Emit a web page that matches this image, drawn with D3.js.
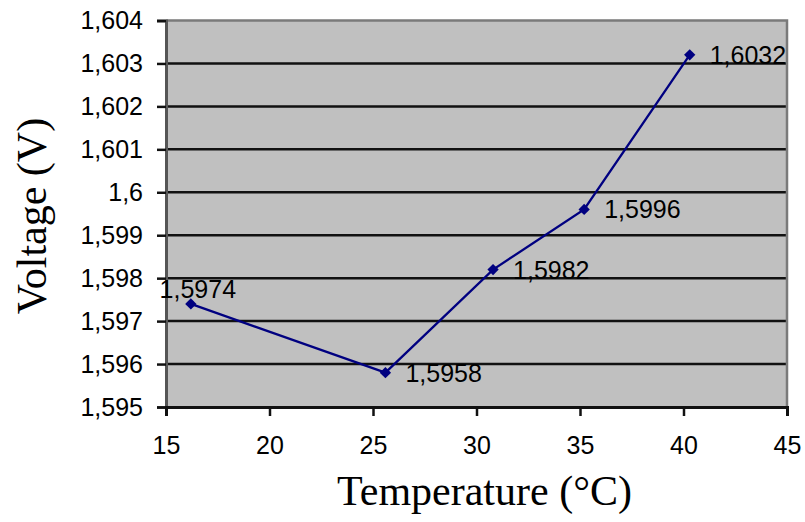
<!DOCTYPE html>
<html>
<head>
<meta charset="utf-8">
<script src="https://cdn.jsdelivr.net/npm/d3@7"></script>
<style>
  html, body { margin: 0; padding: 0; background: #fff; }
  svg { display: block; }
</style>
</head>
<body>
<svg id="chart" width="805" height="522"></svg>
<script>
// Measured voltage against temperature
const temperatures = [16.2, 25.6, 30.8, 35.2, 40.3];
const voltages = [1.5974, 1.5958, 1.5982, 1.5996, 1.6032];
const xTicks = [15, 20, 25, 30, 35, 40, 45];
const yTicks = [1.595, 1.596, 1.597, 1.598, 1.599, 1.6, 1.601, 1.602, 1.603, 1.604];

const xTitle = "Temperature (°C)";
const yTitle = "Voltage (V)";

// Comma as decimal separator
const locale = d3.formatLocale({ decimal: ",", thousands: ".", grouping: [3], currency: ["", ""] });
const tickFmt = locale.format(".3~f");
const labelFmt = locale.format(".4f");

const svg = d3.select("#chart");
const plot = { left: 166, right: 787, top: 20.5, bottom: 407 };

const x = d3.scaleLinear().domain([15, 45]).range([plot.left, plot.right]);
const y = d3.scaleLinear().domain([1.595, 1.604]).range([plot.bottom, plot.top]);

// Plot background
svg.append("rect")
  .attr("x", plot.left).attr("y", plot.top)
  .attr("width", plot.right - plot.left).attr("height", plot.bottom - plot.top)
  .attr("fill", "#c0c0c0");

// Horizontal gridlines
svg.append("g")
  .selectAll("line")
  .data(yTicks.slice(1, -1))
  .join("line")
  .attr("x1", plot.left).attr("x2", plot.right)
  .attr("y1", d => y(d)).attr("y2", d => y(d))
  .attr("stroke", "#111").attr("stroke-width", 2.5);

// Plot border (top and right)
svg.append("path")
  .attr("d", `M${plot.left},${plot.top}H${plot.right}V${plot.bottom}`)
  .attr("fill", "none").attr("stroke", "#7a7a7a").attr("stroke-width", 2.5);

// Y axis
const yAxis = d3.axisLeft(y).tickValues(yTicks).tickFormat(tickFmt).tickSize(9).tickPadding(14);
const gy = svg.append("g").attr("transform", `translate(${plot.left},0)`).call(yAxis);
gy.select(".domain").attr("stroke", "#555").attr("stroke-width", 3);
gy.selectAll(".tick line").attr("stroke", "#111").attr("stroke-width", 2.5);
gy.selectAll(".tick text")
  .attr("font-family", "Liberation Sans, Arial, sans-serif")
  .attr("font-size", 25).attr("fill", "#000");

// X axis
const xAxis = d3.axisBottom(x).tickValues(xTicks).tickFormat(d3.format("d")).tickSize(9).tickPadding(20);
const gx = svg.append("g").attr("transform", `translate(0,${plot.bottom})`).call(xAxis);
gx.select(".domain").attr("stroke", "#111").attr("stroke-width", 3);
gx.selectAll(".tick line").attr("stroke", "#111").attr("stroke-width", 2.5);
gx.selectAll(".tick text")
  .attr("font-family", "Liberation Sans, Arial, sans-serif")
  .attr("font-size", 25).attr("fill", "#000");

// Series line
const points = temperatures.map((t, i) => ({ t, v: voltages[i] }));
svg.append("path")
  .datum(points)
  .attr("d", d3.line().x(d => x(d.t)).y(d => y(d.v)))
  .attr("fill", "none").attr("stroke", "#000080").attr("stroke-width", 2.3);

// Markers: small diamonds
svg.append("g")
  .selectAll("path")
  .data(points)
  .join("path")
  .attr("d", d3.symbol().type(d3.symbolSquare).size(64))
  .attr("transform", d => `translate(${x(d.t)},${y(d.v)}) rotate(45)`)
  .attr("fill", "#000080");

// Value labels: first one sits above the point, the rest to the right
svg.append("g")
  .selectAll("text")
  .data(points)
  .join("text")
  .attr("x", (d, i) => i === 0 ? x(d.t) + 7 : x(d.t) + 20)
  .attr("y", (d, i) => i === 0 ? y(d.v) - 6 : y(d.v) + 9)
  .attr("text-anchor", (d, i) => i === 0 ? "middle" : "start")
  .attr("font-family", "Liberation Sans, Arial, sans-serif")
  .attr("font-size", 25).attr("fill", "#000")
  .text(d => labelFmt(d.v));

// Axis titles
svg.append("text")
  .attr("x", (plot.left + plot.right) / 2 + 8).attr("y", 505)
  .attr("text-anchor", "middle")
  .attr("font-family", "Liberation Serif, Times New Roman, serif")
  .attr("font-size", 42).attr("fill", "#000")
  .text(xTitle);

svg.append("text")
  .attr("transform", "translate(46,216) rotate(-90)")
  .attr("text-anchor", "middle")
  .attr("font-family", "Liberation Serif, Times New Roman, serif")
  .attr("font-size", 42).attr("fill", "#000")
  .text(yTitle);
</script>
</body>
</html>
